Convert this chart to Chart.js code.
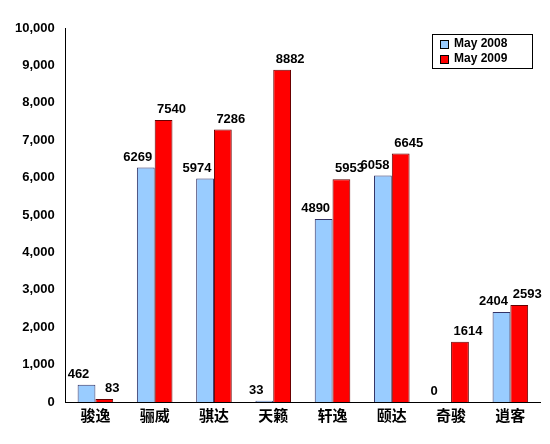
<!DOCTYPE html>
<html><head><meta charset="utf-8">
<script src="https://cdn.jsdelivr.net/npm/chart.js@4"></script>
<style>html,body{margin:0;padding:0;background:#fff}#w{width:550px;height:444px}</style>
</head><body><div id="w"><canvas id="c"></canvas></div>
<script>
const categories=['骏逸','骊威','骐达','天籁','轩逸','颐达','奇骏','逍客'];
const seriesNames=['May 2008','May 2009'];
const may2008=[462,6269,5974,33,4890,6058,0,2404];
const may2009=[83,7540,7286,8882,5953,6645,1614,2593];
const colors=['#99CCFF','#FF0000'];
const labelPlugin={id:'lbl',afterDatasetsDraw(ch){const ctx=ch.ctx;ctx.save();ctx.font='bold 13px Arial, "Liberation Sans"';ctx.fillStyle='#000';ctx.textAlign='center';ctx.textBaseline='bottom';
ch.data.datasets.forEach((ds,i)=>{ch.getDatasetMeta(i).data.forEach((b,j)=>{ctx.fillText(String(ds.data[j]),b.x+(i===0?-8:8),b.y-4);});});
const a=ch.chartArea;const lx=a.right-108,ly=a.top+6;ctx.fillStyle='#fff';ctx.fillRect(lx,ly,100,34);ctx.strokeStyle='#000';ctx.lineWidth=1;ctx.strokeRect(lx+.5,ly+.5,100,34);
ctx.font='bold 12px Arial';ctx.textAlign='left';ctx.textBaseline='middle';
seriesNames.forEach((n,i)=>{const y=ly+10+i*15;ctx.fillStyle=colors[i];ctx.fillRect(lx+8,y-4,8,8);ctx.strokeRect(lx+8.5,y-3.5,8,8);ctx.fillStyle='#000';ctx.fillText(n,lx+22,y);});
ctx.restore();}};
new Chart(document.getElementById('c'),{type:'bar',data:{labels:categories,datasets:[
{label:seriesNames[0],data:may2008,backgroundColor:colors[0],borderColor:'#333366',borderWidth:1,categoryPercentage:0.6,barPercentage:1},
{label:seriesNames[1],data:may2009,backgroundColor:colors[1],borderColor:'#660000',borderWidth:1,categoryPercentage:0.6,barPercentage:1}]},
options:{responsive:true,maintainAspectRatio:false,animation:false,layout:{padding:{top:28,right:10,left:12,bottom:16}},
plugins:{legend:{display:false},tooltip:{enabled:false}},
scales:{x:{grid:{display:false,drawTicks:false},border:{color:'#000'},ticks:{color:'#000',font:{size:15,weight:'bold',family:'"Noto Sans CJK SC"'},padding:4}},
y:{min:0,max:10000,ticks:{stepSize:1000,color:'#000',font:{size:13,weight:'bold',family:'Arial'},callback:v=>v.toLocaleString('en-US')},grid:{display:false},border:{color:'#000'}}}}
,plugins:[labelPlugin]});
</script></body></html>
